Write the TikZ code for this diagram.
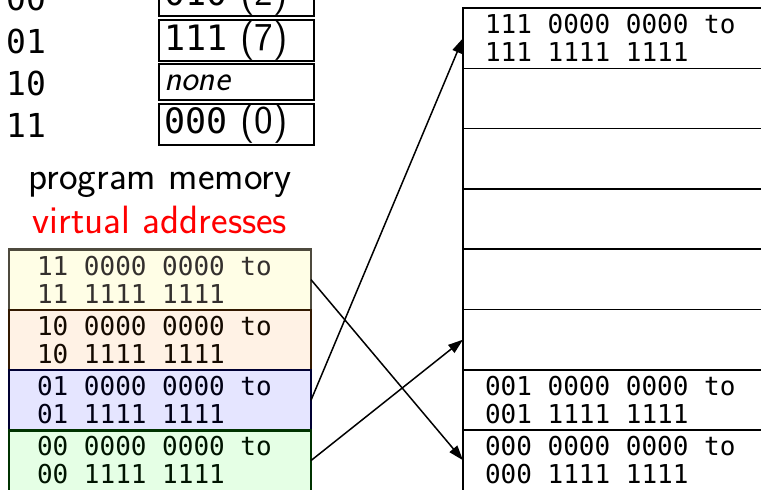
\documentclass[tikz,border=0pt]{standalone}
\usepackage{fontspec}
\newfontfamily\dmono{DejaVu Sans Mono}
\newcommand\msp{\hspace*{0.6021em}}
\usetikzlibrary{arrows.meta}
\begin{document}
\begin{tikzpicture}[x=1pt,y=-1pt,
  ptbox/.style={draw,line width=2pt,anchor=base west,inner xsep=5pt,inner ysep=0pt,outer sep=0pt,text width=145pt,align=left,font=\fontsize{39.5}{42}\selectfont\sffamily},
  ptlabel/.style={anchor=base west,inner sep=0pt,font=\fontsize{33}{36}\selectfont\dmono},
  caption/.style={anchor=base,inner sep=0pt,font=\fontsize{39.5}{42}\selectfont\sffamily},
  vrow/.style={draw=#1!20!black,fill=#1!10,text=#1!8!black,line width=2.2pt,minimum width=302pt,minimum height=60.3pt,inner xsep=28pt,inner ysep=0pt,outer sep=0pt,text width=246pt,align=left,text height=20pt,text depth=29.3pt,font=\fontsize{26}{28}\selectfont\dmono},
  prow/.style={draw,line width=1.5pt,minimum width=337pt,minimum height=60.3pt,inner xsep=22pt,inner ysep=0pt,outer sep=0pt,text width=293pt,align=left,text height=20pt,text depth=29.3pt,font=\fontsize{26}{28}\selectfont\dmono},
  map/.style={line width=1.5pt,-{Triangle[length=15pt,width=10pt]}}]
\useasboundingbox (0,0) rectangle (761,490);
\clip (0,0) rectangle (761,490);
% page table
\node[ptlabel] (l00) at (6,10) {00};
\node[ptlabel] (l01) at (6,53) {01};
\node[ptlabel] (l10) at (6,95) {10};
\node[ptlabel] (l11) at (6,137) {11};
\node[ptbox,text height=30pt,text depth=11pt] (p00) at (159,5) {{\fontsize{35}{38}\selectfont\dmono 010} (2)};
\node[ptbox,text height=30pt,text depth=11pt] (p01) at (159,50) {{\fontsize{35}{38}\selectfont\dmono 111} (7)};
\node[ptbox,text height=26pt,text depth=10pt,font=\fontsize{35.5}{38}\selectfont\sffamily] (p10) at (159,90) {\textit{none}};
\node[ptbox,text height=29pt,text depth=12pt] (p11) at (159,133) {{\fontsize{35}{38}\selectfont\dmono 000} (0)};
% captions
\node[caption] (cap1) at (160,189) {program memory};
\node[caption,text=red] (cap2) at (160,233) {virtual addresses};
% virtual memory
\node[vrow=yellow] (v11) at (160,279.65) {11\msp0000\msp0000\msp to\\11\msp1111\msp1111};
\node[vrow=orange] (v10) at (160,339.95) {10\msp0000\msp0000\msp to\\10\msp1111\msp1111};
\node[vrow=blue] (v01) at (160,400.25) {01\msp0000\msp0000\msp to\\01\msp1111\msp1111};
\node[vrow=green] (v00) at (160,460.55) {00\msp0000\msp0000\msp to\\00\msp1111\msp1111};
% physical memory
\node[prow] (r111) at (631.5,38.15) {111\msp0000\msp0000\msp to\\111\msp1111\msp1111};
\node[prow] (r110) at (631.5,98.45) {};
\node[prow] (r101) at (631.5,158.75) {};
\node[prow] (r100) at (631.5,219.05) {};
\node[prow] (r011) at (631.5,279.35) {};
\node[prow] (r010) at (631.5,339.65) {};
\node[prow] (r001) at (631.5,399.95) {001\msp0000\msp0000\msp to\\001\msp1111\msp1111};
\node[prow] (r000) at (631.5,460.25) {000\msp0000\msp0000\msp to\\000\msp1111\msp1111};
\draw[line width=2.5pt] (r000.south west) -- (r111.north west) -- (r111.north east);
% mappings
\draw[map] (v11.east) -- (r000.west);
\draw[map] (v01.east) -- (r111.west);
\draw[map] (v00.east) -- (r010.west);
\end{tikzpicture}
\end{document}
